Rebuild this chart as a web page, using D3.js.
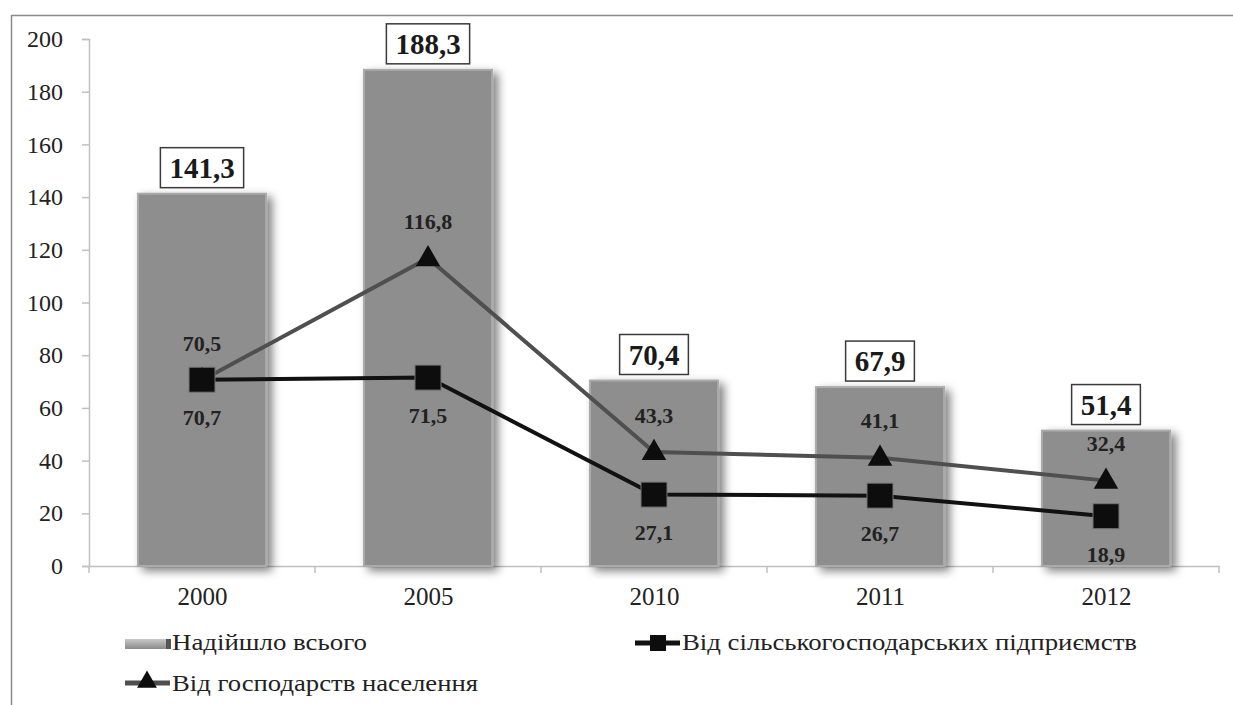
<!DOCTYPE html>
<html><head><meta charset="utf-8">
<script src="https://cdn.jsdelivr.net/npm/d3@7"></script>
<style>
body{margin:0;background:#fff}
svg{display:block}
</style>
</head><body>
<svg id="c" width="1233" height="705"></svg>
<script>
const years = ["2000","2005","2010","2011","2012"];
const total = [141.3, 188.3, 70.4, 67.9, 51.4];
const households = [70.5, 116.8, 43.3, 41.1, 32.4];
const enterprises = [70.7, 71.5, 27.1, 26.7, 18.9];
const yTicks = [0,20,40,60,80,100,120,140,160,180,200];
const seriesNames = ["Надійшло всього", "Від сільськогосподарських підприємств", "Від господарств населення"];

const FONT = "Liberation Serif";
const fmt = v => v.toFixed(1).replace(".", ",");
const svg = d3.select("#c");

const defs = svg.append("defs");
const sh = defs.append("filter").attr("id","sh").attr("x","-20%").attr("y","-20%").attr("width","150%").attr("height","150%");
sh.append("feGaussianBlur").attr("in","SourceAlpha").attr("stdDeviation",5);
sh.append("feOffset").attr("dx",5).attr("dy",4).attr("result","b");
sh.append("feComponentTransfer").append("feFuncA").attr("type","linear").attr("slope",0.5);
const m = sh.append("feMerge"); m.append("feMergeNode"); m.append("feMergeNode").attr("in","SourceGraphic");
const sh2 = defs.append("filter").attr("id","sh2").attr("x","-5%").attr("y","-300%").attr("width","110%").attr("height","700%");
sh2.append("feGaussianBlur").attr("in","SourceAlpha").attr("stdDeviation",1.5);
sh2.append("feOffset").attr("dx",1).attr("dy",2).attr("result","b");
sh2.append("feComponentTransfer").append("feFuncA").attr("type","linear").attr("slope",0.2);
const m2 = sh2.append("feMerge"); m2.append("feMergeNode"); m2.append("feMergeNode").attr("in","SourceGraphic");
const lgGrad = defs.append("linearGradient").attr("id","lgGrad").attr("x1",0).attr("x2",0).attr("y1",0).attr("y2",1);
lgGrad.append("stop").attr("offset","0%").attr("stop-color","#c8c8c8");
lgGrad.append("stop").attr("offset","100%").attr("stop-color","#8a8a8a");

// outer frame
svg.append("line").attr("x1",11).attr("x2",1233).attr("y1",15.5).attr("y2",15.5).attr("stroke","#8a8a8a").attr("stroke-width",1.5);
svg.append("line").attr("x1",11.5).attr("x2",11.5).attr("y1",15).attr("y2",705).attr("stroke","#8a8a8a").attr("stroke-width",1.5);

const x = d3.scaleBand().domain(years).range([89, 1219]).paddingInner(0.433).paddingOuter(0.2165);
const xc = d3.scalePoint().domain(years).range([89, 1219]).padding(0.5);
const y = d3.scaleLinear().domain([0, 200]).range([566, 39]);

// grid
svg.append("g").selectAll("line").data(yTicks.filter(d=>d>0)).join("line")
  .attr("x1",82).attr("x2",1219).attr("y1",d=>y(d)).attr("y2",d=>y(d))
  .attr("stroke","#c6c6c6").attr("stroke-width",1.5).attr("filter","url(#sh2)");

// y axis
const ya = svg.append("g").attr("transform","translate(89,0)")
  .call(d3.axisLeft(y).tickValues(yTicks).tickSize(7).tickPadding(19).tickFormat(d3.format("d")));
ya.attr("font-family",FONT);
ya.select(".domain").attr("stroke","#c0c0c0").attr("stroke-width",1.5);
ya.selectAll(".tick line").attr("stroke","#c0c0c0").attr("stroke-width",1.5);
ya.selectAll("text").attr("font-family",FONT).attr("font-size",24).attr("fill","#222");

// x axis
const xa = svg.append("g").attr("transform","translate(0,566)")
  .call(d3.axisBottom(xc).tickSize(0).tickPadding(21));
xa.attr("font-family",FONT);
xa.select(".domain").attr("stroke","#c0c0c0").attr("stroke-width",1.5);
xa.selectAll("text").attr("font-family",FONT).attr("font-size",25).attr("fill","#222");
svg.append("g").selectAll("line").data(d3.range(years.length+1)).join("line")
  .attr("x1",i=>89+i*x.step()).attr("x2",i=>89+i*x.step()).attr("y1",566).attr("y2",573)
  .attr("stroke","#c0c0c0").attr("stroke-width",1.5);

// bars
svg.append("g").selectAll("rect").data(total).join("rect")
  .attr("x",(d,i)=>x(years[i])).attr("width",x.bandwidth())
  .attr("y",d=>y(d)).attr("height",d=>y(0)-y(d))
  .attr("fill","#8e8e8e").attr("stroke","#ababab").attr("stroke-width",2)
  .attr("filter","url(#sh)");

// total labels with boxes
const tl = svg.append("g").selectAll("g").data(total).join("g")
  .attr("transform",(d,i)=>`translate(${xc(years[i])},${y(d)-26})`);
tl.append("text").text(d=>fmt(d)).attr("text-anchor","middle").attr("dy","0.35em")
  .attr("font-family",FONT).attr("font-weight","bold").attr("font-size",29).attr("fill","#1a1a1a");
tl.each(function(){
  const t = d3.select(this).select("text").node().getBBox();
  const w = t.width + 18;
  d3.select(this).insert("rect","text").attr("x",-w/2).attr("y",-20).attr("width",w).attr("height",40)
    .attr("fill","#fff").attr("stroke","#3a3a3a").attr("stroke-width",1.5);
});

// lines
const line = d3.line().x((d,i)=>xc(years[i])).y(d=>y(d));
svg.append("path").datum(households).attr("d",line).attr("fill","none")
  .attr("stroke","#4f4f4f").attr("stroke-width",4);
svg.append("path").datum(enterprises).attr("d",line).attr("fill","none")
  .attr("stroke","#111").attr("stroke-width",4);

svg.append("g").selectAll("rect").data(enterprises).join("rect")
  .attr("x",(d,i)=>xc(years[i])-13).attr("y",d=>y(d)-12.5).attr("width",26).attr("height",25)
  .attr("fill","#0d0d0d").attr("stroke","#777").attr("stroke-width",1);
svg.append("g").selectAll("path").data(households).join("path")
  .attr("d",d3.symbol().type(d3.symbolTriangle).size(260))
  .attr("transform",(d,i)=>`translate(${xc(years[i])},${y(d)+1})`)
  .attr("fill","#0d0d0d");

// line labels
svg.append("g").selectAll("text").data(households).join("text")
  .attr("x",(d,i)=>xc(years[i])).attr("y",d=>y(d)-37).attr("dy","0.35em")
  .attr("text-anchor","middle").text(d=>fmt(d))
  .attr("font-family",FONT).attr("font-weight","bold").attr("font-size",22).attr("fill","#222");
svg.append("g").selectAll("text").data(enterprises).join("text")
  .attr("x",(d,i)=>xc(years[i])).attr("y",d=>y(d)+38).attr("dy","0.35em")
  .attr("text-anchor","middle").text(d=>fmt(d))
  .attr("font-family",FONT).attr("font-weight","bold").attr("font-size",22).attr("fill","#222");

// legend
const lg = svg.append("g");
function legText(xp, yp, s, len){
  lg.append("text").attr("x",xp).attr("y",yp).text(s)
    .attr("font-family",FONT).attr("font-size",24).attr("fill","#222")
    .attr("textLength",len).attr("lengthAdjust","spacingAndGlyphs");
}
lg.append("rect").attr("x",125).attr("y",639).attr("width",42).attr("height",10).attr("fill","url(#lgGrad)");
lg.append("rect").attr("x",166).attr("y",639).attr("width",5).attr("height",10).attr("fill","#555");
legText(172, 650, seriesNames[0], 195);
lg.append("line").attr("x1",635).attr("x2",680).attr("y1",643).attr("y2",643).attr("stroke","#111").attr("stroke-width",5);
lg.append("rect").attr("x",650).attr("y",635).attr("width",16).attr("height",16).attr("fill","#0d0d0d");
legText(682, 650, seriesNames[1], 455);
lg.append("line").attr("x1",125).attr("x2",170).attr("y1",683).attr("y2",683).attr("stroke","#4f4f4f").attr("stroke-width",5);
lg.append("path").attr("d",d3.symbol().type(d3.symbolTriangle).size(170)).attr("transform","translate(147,682)").attr("fill","#0d0d0d");
legText(172, 691, seriesNames[2], 306);
</script>
</body></html>
